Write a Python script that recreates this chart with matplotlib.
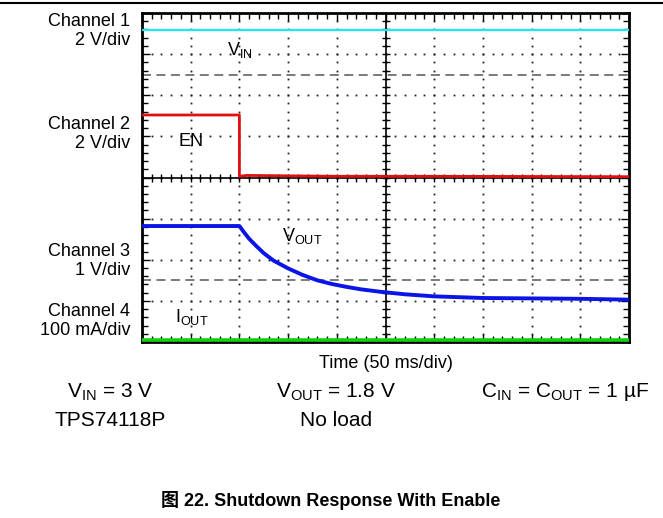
import matplotlib.pyplot as plt
from matplotlib.lines import Line2D
import numpy as np

plt.rcParams['font.family'] = ['Liberation Sans', 'Noto Sans CJK SC']
plt.rcParams['mathtext.fontset'] = 'custom'
plt.rcParams['mathtext.rm'] = 'Liberation Sans'

# scope screen is 10 x 8 divisions, all values below in divisions
vin_t = [0, 10]
vin_v = [7.59, 7.59]
en_t = [0, 2.0, 2.0, 2.15, 4.0, 6.0, 10]
en_v = [5.52, 5.52, 4.03, 4.05, 4.03, 4.03, 4.02]
vout_t = [0, 2.0, 2.1, 2.2, 2.35, 2.5, 2.7, 3.0, 3.3, 3.6, 3.9, 4.2,
          4.5, 4.9, 5.4, 6.0, 7.0, 8.0, 9.0, 10]
vout_v = [2.82, 2.82, 2.66, 2.51, 2.33, 2.16, 1.98, 1.79, 1.63, 1.50,
          1.41, 1.34, 1.28, 1.22, 1.16, 1.11, 1.07, 1.06, 1.05, 1.03]
iout_t = [0, 10]
iout_v = [0.06, 0.06]
ref_levels = [6.5, 1.5]  # channel ground markers (dashed)

channel_labels = ['Channel 1\n2 V/div', 'Channel 2\n2 V/div',
                  'Channel 3\n1 V/div', 'Channel 4\n100 mA/div']
channel_label_y = [31, 134, 261, 321]

W, H = 663, 518
fig = plt.figure(figsize=(W / 100, H / 100), dpi=100)
ax = fig.add_axes([142 / W, 1 - 342 / H, 487 / W, 329 / H])
ax.set_xlim(0, 10)
ax.set_ylim(0, 8)

# dotted graticule
for gx in range(1, 10):
    ys = np.arange(0, 8.01, 0.2)
    ax.plot(np.full_like(ys, gx), ys, ls='none', marker='s', ms=1.3,
            color='#222222', mew=0)
for gy in range(1, 8):
    xs = np.arange(0, 10.01, 0.2)
    ax.plot(xs, np.full_like(xs, gy), ls='none', marker='s', ms=1.3,
            color='#222222', mew=0)

# centre cross with minor ticks
ax.axhline(4, color='black', lw=1.2, zorder=3)
ax.axvline(5, color='black', lw=1.2, zorder=3)
xs = np.arange(0, 10.01, 0.2)
ax.plot(xs, np.full_like(xs, 4), ls='none', marker='|', ms=6, mew=1.0,
        color='black', zorder=3)
ys = np.arange(0, 8.01, 0.2)
ax.plot(np.full_like(ys, 5), ys, ls='none', marker='_', ms=6, mew=1.0,
        color='black', zorder=3)

for lv in ref_levels:
    ax.axhline(lv, color='#707070', lw=1.3, ls=(0, (5, 3)), zorder=2)

ax.plot(vin_t, vin_v, color='#1ee6f2', lw=1.6, zorder=4)
ax.plot(en_t, en_v, color='#e01010', lw=2.0, zorder=4)
ax.plot(vout_t, vout_v, color='#0a14e6', lw=2.8, zorder=4)
ax.plot(iout_t, iout_v, color='#10d010', lw=2.6, zorder=4)

ax.set_xticks(range(0, 11))
ax.set_yticks(range(0, 9))
ax.set_xticks(np.arange(0, 10.01, 0.2), minor=True)
ax.set_yticks(np.arange(0, 8.01, 0.2), minor=True)
ax.tick_params(which='both', direction='in', top=True, right=True,
               labelbottom=False, labelleft=False, width=1.0, color='black')
ax.tick_params(which='major', length=6)
ax.tick_params(which='minor', length=4)
for s in ax.spines.values():
    s.set_linewidth(2.0)

ax.text(1.75, 7.1, r'V$_{\rm IN}$', fontsize=13, va='center')
ax.text(0.74, 4.87, 'EN', fontsize=13, va='center')
ax.text(2.88, 2.57, r'V$_{\rm OUT}$', fontsize=13, va='center')
ax.text(0.68, 0.6, r'I$_{\rm OUT}$', fontsize=13, va='center')

for txt, y in zip(channel_labels, channel_label_y):
    fig.text(130 / W, 1 - y / H, txt, fontsize=13, ha='right', va='center',
             multialignment='right', linespacing=1.2)

fig.text(386 / W, 1 - 363 / H, 'Time (50 ms/div)', fontsize=13,
         ha='center', va='center')
fig.text(110 / W, 1 - 392 / H, r'V$_{\rm IN}$ = 3 V', fontsize=15,
         ha='center', va='center')
fig.text(110 / W, 1 - 421 / H, 'TPS74118P', fontsize=15,
         ha='center', va='center')
fig.text(336 / W, 1 - 392 / H, r'V$_{\rm OUT}$ = 1.8 V', fontsize=15,
         ha='center', va='center')
fig.text(336 / W, 1 - 421 / H, 'No load', fontsize=15,
         ha='center', va='center')
fig.text(565 / W, 1 - 392 / H, r'C$_{\rm IN}$ = C$_{\rm OUT}$ = 1 µF',
         fontsize=15, ha='center', va='center')

fig.text(331 / W, 1 - 500 / H, '图 22. Shutdown Response With Enable',
         fontsize=13, fontweight='bold', ha='center', va='center')

fig.add_artist(Line2D([0, 1], [1 - 2.5 / H] * 2, color='black', lw=1.5))

fig.savefig('out.png', dpi=100)
